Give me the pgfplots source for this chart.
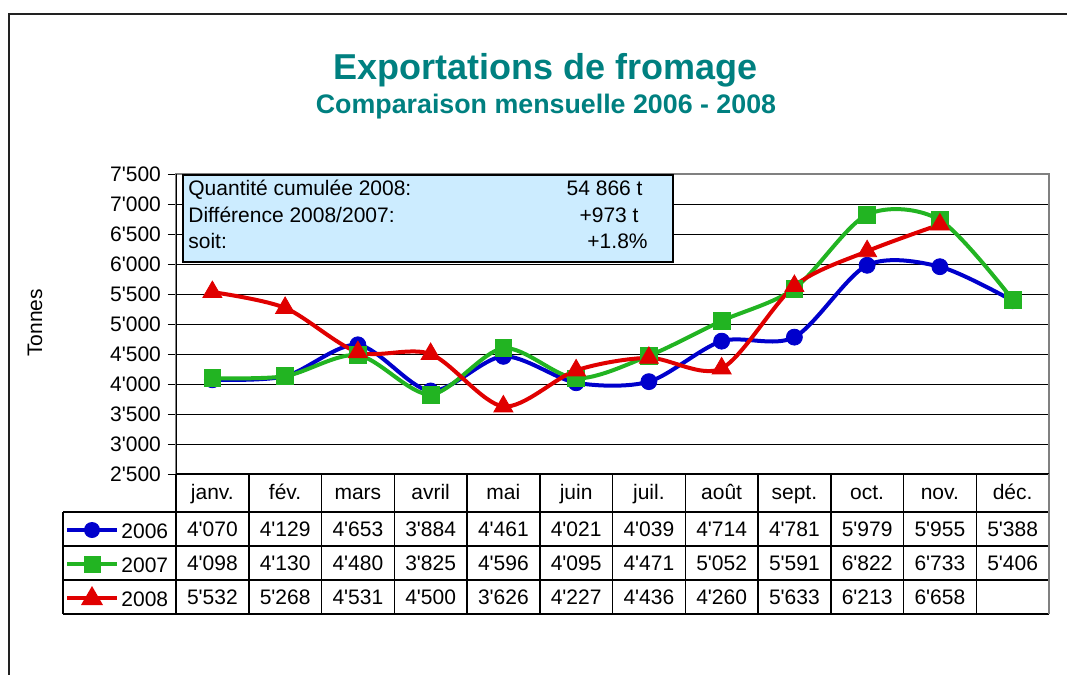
\documentclass[border=0pt]{standalone}
\usepackage{pgfplots}
\pgfplotsset{compat=1.18}
\usepackage{fontspec}
\setmainfont{Liberation Sans}
\newcommand\q{\textquotesingle}
\definecolor{teal2}{RGB}{0,128,128}
\definecolor{s06}{RGB}{0,0,204}
\definecolor{s07}{RGB}{34,180,34}
\definecolor{s08}{RGB}{224,0,0}
\definecolor{boxblue}{RGB}{204,236,255}
\definecolor{bordergray}{RGB}{128,128,128}
\definecolor{framegray}{RGB}{34,34,34}
\begin{document}
\begin{tikzpicture}
\begin{scope}[x=0.5pt,y=-0.5pt]
\path[use as bounding box] (0,0) rectangle (1067,675);
\draw[framegray, line width=1pt] (1067,14) -- (9,14) -- (9,675);
\node[anchor=base, inner sep=0, text=teal2, font=\bfseries\fontsize{18pt}{20pt}\selectfont] at (546,79) {Exportations de fromage};
\node[anchor=base, inner sep=0, text=teal2, font=\bfseries\fontsize{13.4pt}{15pt}\selectfont] at (546,113) {Comparaison mensuelle 2006 - 2008};
\node[rotate=90, inner sep=0, font=\fontsize{10.5pt}{12pt}\selectfont] at (35,323) {Tonnes};
\end{scope}

\begin{axis}[
  at={(88pt,-237pt)}, anchor=south west, scale only axis,
  width=436.5pt, height=150pt,
  xmin=0.5, xmax=12.5, ymin=2500, ymax=7500,
  xtick=\empty,
  ytick={2500,3000,3500,4000,4500,5000,5500,6000,6500,7000,7500},
  yticklabels={2\q500,3\q000,3\q500,4\q000,4\q500,5\q000,5\q500,6\q000,6\q500,7\q000,7\q500},
  ytick pos=left,
  ymajorgrids, grid style={black, line width=0.5pt},
  axis line style={draw=bordergray, line width=0.75pt},
  tick align=outside, major tick length=4pt,
  ytick style={black, line width=0.5pt},
  yticklabel style={font=\fontsize{10.5pt}{12pt}\selectfont},
  /pgf/number format/assume math mode=true,
]
\addplot[s06, line width=2pt, smooth, mark=*, mark size=4pt, mark options={solid, line width=0.4pt, draw=s06, fill=s06}]
 coordinates {(1,4070)(2,4129)(3,4653)(4,3884)(5,4461)(6,4021)(7,4039)(8,4714)(9,4781)(10,5979)(11,5955)(12,5388)};
\addplot[s07, line width=2pt, smooth, mark=square*, mark size=4.2pt, mark options={solid, line width=0.4pt, draw=s07, fill=s07}]
 coordinates {(1,4098)(2,4130)(3,4480)(4,3825)(5,4596)(6,4095)(7,4471)(8,5052)(9,5591)(10,6822)(11,6733)(12,5406)};
\addplot[s08, line width=2pt, smooth, mark=triangle*, mark size=5.5pt, mark options={solid, line width=0.4pt, draw=s08, fill=s08}]
 coordinates {(1,5532)(2,5268)(3,4531)(4,4500)(5,3626)(6,4227)(7,4436)(8,4260)(9,5633)(10,6213)(11,6658)};
\draw[black, line width=1pt] (rel axis cs:0,0) -- (rel axis cs:0,1);
\draw[black, line width=0.75pt] (rel axis cs:0,0) -- (rel axis cs:1,0);
\end{axis}

\begin{scope}[x=0.5pt,y=-0.5pt, every node/.style={inner sep=0, font=\fontsize{10.5pt}{12pt}\selectfont}]
% info box
\draw[fill=boxblue, line width=1pt] (183,175) rectangle (673,262);
\node[anchor=base west] at (188,195) {Quantité cumulée 2008:};
\node[anchor=base west] at (188,222) {Différence 2008/2007:};
\node[anchor=base west] at (188,248) {soit:};
\node[anchor=base east] at (643,195) {54 866 t};
\node[anchor=base east] at (639,222) {+973 t};
\node[anchor=base east] at (648,248) {+1.8\%};
% table grid
\foreach \yy in {512,546,580,614} \draw[black, line width=0.75pt] (63,\yy) -- (1049,\yy);
\draw[black, line width=0.75pt] (63,512) -- (63,614);
\foreach \k in {0,...,11} \draw[black, line width=0.75pt] ({176+72.75*\k},474) -- ({176+72.75*\k},614);
\draw[bordergray, line width=0.75pt] (1049,474) -- (1049,614);
% header
\foreach \m [count=\i] in {janv.,fév.,mars,avril,mai,juin,juil.,août,sept.,oct.,nov.,déc.}
  \node[anchor=base] at ({176+72.75*(\i-0.5)},499) {\m};
\foreach \v [count=\i] in {4\q070,4\q129,4\q653,3\q884,4\q461,4\q021,4\q039,4\q714,4\q781,5\q979,5\q955,5\q388}
  \node[anchor=base] at ({176+72.75*(\i-0.5)},536) {\v};
\foreach \v [count=\i] in {4\q098,4\q130,4\q480,3\q825,4\q596,4\q095,4\q471,5\q052,5\q591,6\q822,6\q733,5\q406}
  \node[anchor=base] at ({176+72.75*(\i-0.5)},570) {\v};
\foreach \v [count=\i] in {5\q532,5\q268,4\q531,4\q500,3\q626,4\q227,4\q436,4\q260,5\q633,6\q213,6\q658}
  \node[anchor=base] at ({176+72.75*(\i-0.5)},604) {\v};
% legend keys
\draw[s06, line width=2pt] (67,530) -- (117,530);
\fill[s06] (92,530) circle (4pt);
\node[anchor=base west] at (121,538) {2006};
\draw[s07, line width=2pt] (67,564) -- (117,564);
\fill[s07] (83.5,555.5) rectangle (100.5,572.5);
\node[anchor=base west] at (121,572) {2007};
\draw[s08, line width=2pt] (67,598) -- (117,598);
\fill[s08] (92,586) -- (81,605) -- (103,605) -- cycle;
\node[anchor=base west] at (121,606) {2008};
\end{scope}
\end{tikzpicture}
\end{document}
